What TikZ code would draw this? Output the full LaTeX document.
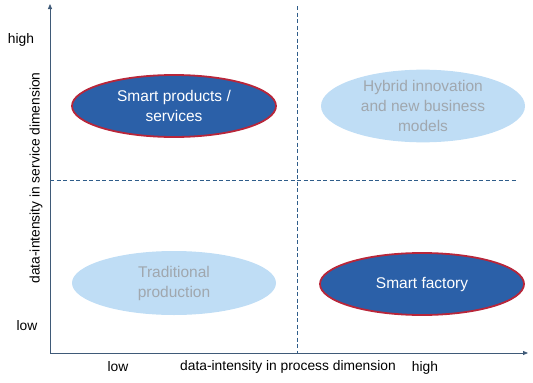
\documentclass[tikz,border=0pt]{standalone}
\usepackage{fontspec}
\setmainfont{Liberation Sans}
\usetikzlibrary{shapes.geometric,arrows.meta}
\definecolor{darkfill}{HTML}{2B60A8}
\definecolor{redline}{HTML}{B8263A}
\definecolor{lightfill}{HTML}{BFDDF5}
\definecolor{graytext}{HTML}{A0A7AE}
\definecolor{axiscol}{HTML}{3F5A78}
\definecolor{dashcol}{HTML}{2F5D8A}
\begin{document}
\begin{tikzpicture}[x=1pt,y=-1pt,
  darkell/.style={ellipse,draw=redline,line width=1.8pt,fill=darkfill,text=white,minimum width=204pt,minimum height=62pt,inner sep=0pt,align=center,font=\fontsize{15.5}{20}\selectfont},
  lightell/.style={ellipse,fill=lightfill,text=graytext,minimum width=204pt,minimum height=64pt,inner sep=0pt,align=center,font=\fontsize{15.5}{20}\selectfont},
  lbl/.style={font=\fontsize{13.8}{16}\selectfont,inner sep=0pt},
  axisline/.style={draw=axiscol,line width=0.8pt,-{Triangle[length=5pt,width=4pt]}},
  dashline/.style={draw=dashcol,line width=0.6pt,dash pattern=on 4pt off 2.5pt}]
\useasboundingbox (0,0) rectangle (533,383);
\coordinate (o) at (50,353);
\coordinate (ytop) at (50,4);
\coordinate (xend) at (528,353);
\coordinate (vtop) at (297,6);
\coordinate (vbot) at (297,353);
\coordinate (hl) at (50,180);
\coordinate (hr) at (516,180);
\draw[dashline] (vtop) -- (vbot);
\draw[dashline] (hl) -- (hr);
\draw[axisline] (o) -- (ytop);
\draw[axisline] (o) -- (xend);
\node[darkell] (sp) at (174,106) {Smart products /\\services};
\node[lightell] (hy) at (423,106) {Hybrid innovation\\and new business\\models};
\node[lightell] (tp) at (174,283) {Traditional\\production};
\node[darkell] (sf) at (422,284) {Smart factory};
\node[lbl] (yhigh) at (21,40) {high};
\node[lbl] (ylow) at (27,326) {low};
\node[lbl,rotate=90] (ylab) at (36,178) {data-intensity in service dimension};
\node[lbl] (xlow) at (118,367) {low};
\node[lbl] (xlab) at (288,367) {data-intensity in process dimension};
\node[lbl] (xhigh) at (425,368) {high};
\end{tikzpicture}
\end{document}
